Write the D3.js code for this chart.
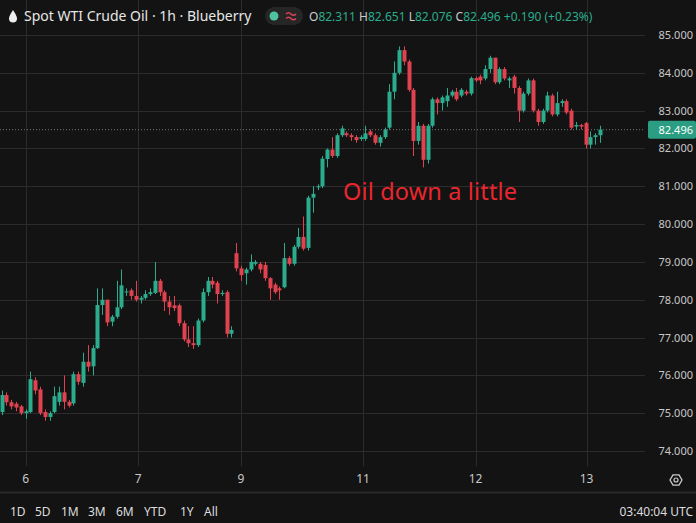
<!DOCTYPE html>
<html><head><meta charset="utf-8">
<script src="https://cdn.jsdelivr.net/npm/d3@7"></script>
<style>body{margin:0;background:#131313;}svg{display:block;font-family:"Noto Sans",sans-serif;}</style>
</head><body><svg id="c" width="696" height="523"></svg>
<script>
const opens=[75.03,75.48,75.29,75.25,75.18,75.0,75.03,75.87,75.63,75.03,74.9,75.03,75.3,75.55,75.3,75.26,76.03,75.8,76.36,76.24,76.72,77.86,78.0,77.42,77.55,77.8,78.2,78.25,78.1,78.0,78.05,78.15,78.18,78.5,78.2,77.95,77.85,77.85,77.38,76.95,76.85,76.8,77.45,78.2,78.5,78.45,78.15,78.2,77.1,
79.23,78.83,78.7,78.8,78.95,78.95,78.92,78.57,78.4,78.3,78.33,79.1,78.95,79.4,79.66,79.37,80.7,80.97,81.0,81.72,81.97,81.8,82.35,82.4,82.35,82.3,82.25,82.25,82.45,82.35,82.15,82.3,82.55,83.5,84.0,84.6,84.3,83.55,82.2,82.6,81.7,82.6,83.3,83.2,83.25,83.4,83.5,83.4,83.5,83.45,83.86,83.9,83.85,84.1,84.4,83.75,84.1,83.8,83.9,83.6,83.0,83.45,83.8,83.0,82.7,83.0,83.4,82.9,83.2,83.25,83.0,82.58,82.62,82.67,82.1,82.3,82.35];
const closes=[75.48,75.29,75.18,75.15,75.0,75.05,75.9,75.6,75.0,74.9,75.0,75.45,75.55,75.3,75.2,76.03,75.83,76.36,76.23,76.72,77.86,78.0,77.4,77.55,77.8,78.38,78.22,78.1,78.0,78.05,78.15,78.2,78.5,78.2,77.95,77.8,77.78,77.38,76.95,76.85,76.8,77.45,78.2,78.5,78.4,78.15,78.18,77.1,77.2,
78.83,78.65,78.8,79.0,79.0,78.8,78.57,78.3,78.2,78.25,79.1,78.95,79.4,79.66,79.35,80.7,80.8,81.0,81.73,81.97,81.8,82.35,82.53,82.35,82.3,82.22,82.3,82.4,82.35,82.15,82.3,82.5,83.5,84.0,84.6,84.3,83.55,82.2,82.6,81.7,82.6,83.3,83.2,83.35,83.4,83.5,83.3,83.55,83.45,83.86,83.8,83.8,84.1,84.4,83.75,84.1,83.85,83.85,83.6,83.0,83.45,83.8,83.0,82.7,83.0,83.4,82.9,83.2,83.25,82.95,82.55,82.62,82.58,82.1,82.3,82.35,82.5];
const highs=[75.6,75.55,75.35,75.3,75.22,75.1,76.1,75.95,75.7,75.1,75.05,75.7,75.7,76.0,75.35,76.1,76.1,76.6,76.8,76.8,78.3,78.3,78.0,77.6,78.5,78.8,78.3,78.3,78.5,78.1,78.25,78.3,79.0,78.55,78.25,78.1,78.1,77.9,77.45,77.3,77.3,77.5,78.3,78.6,78.6,78.5,78.25,78.25,77.3,
79.5,78.9,78.85,79.2,79.05,79.0,79.0,78.6,78.45,78.35,79.5,79.15,79.45,79.9,80.2,80.75,81.0,81.05,81.8,82.0,82.3,82.4,82.6,82.45,82.4,82.35,82.35,82.6,82.5,82.4,82.35,82.55,83.7,84.3,84.7,84.7,84.35,83.6,82.7,82.65,82.65,83.35,83.35,83.4,83.6,83.55,83.6,83.6,83.55,83.9,83.9,83.95,84.2,84.45,84.4,84.15,84.15,83.9,83.95,83.65,83.5,83.85,83.85,83.05,83.05,83.5,83.45,83.5,83.3,83.3,83.05,82.7,82.65,82.7,82.45,82.4,82.6];
const lows=[74.95,75.2,75.1,75.05,74.95,74.85,75.0,75.5,74.95,74.8,74.8,75.0,75.2,75.1,75.15,75.2,75.75,75.7,76.1,76.0,76.7,77.6,77.3,77.3,77.5,77.75,78.1,78.0,77.95,77.9,78.0,78.1,78.15,78.1,77.7,77.6,77.7,77.3,76.9,76.75,76.7,76.75,77.4,78.1,78.3,77.9,78.1,77.0,77.0,
78.75,78.5,78.4,78.75,78.9,78.7,78.5,78.0,78.15,78.0,78.3,78.9,78.9,79.35,79.3,79.3,80.3,80.9,80.95,81.5,81.75,81.75,82.3,82.3,82.2,82.15,82.2,82.2,82.3,82.1,82.05,82.25,82.5,83.3,83.95,84.2,83.5,81.8,82.1,81.5,81.6,82.55,82.9,83.0,83.1,83.35,83.25,83.35,83.4,83.4,83.75,83.7,83.8,84.0,83.7,83.7,83.8,83.6,83.45,82.7,82.95,83.4,82.95,82.6,82.65,82.95,82.85,82.85,83.1,82.9,82.5,82.5,82.5,82.0,82.0,82.1,82.15];
const dayLabels=["6","7","9","11","12","13"];
const dayIndex=[5,28.5,50,75.5,99,122.2];
const priceTicks=[74,75,76,77,78,79,80,81,82,83,84,85];
const lastPrice=82.496;
const ranges=["1D","5D","1M","3M","6M","YTD","1Y","All"];

const svg=d3.select("#c");
const G="#2bac8c",R="#e0434f";
const x=d3.scaleLinear().domain([0,125]).range([1.7,600]);
const y=d3.scaleLinear().domain([74,85]).range([451,35]);
const grid="#2c2c2c";
svg.selectAll(".hg").data(priceTicks).join("line").attr("x1",0).attr("x2",645)
 .attr("y1",d=>Math.round(y(d))+.5).attr("y2",d=>Math.round(y(d))+.5).attr("stroke",grid);
svg.selectAll(".vg").data(dayIndex).join("line").attr("x1",d=>Math.round(x(d))+.5).attr("x2",d=>Math.round(x(d))+.5)
 .attr("y1",0).attr("y2",466).attr("stroke",grid);
svg.selectAll(".pl").data(priceTicks).join("text").attr("x",693).attr("y",d=>y(d)+4).attr("text-anchor","end")
 .attr("fill","#c8c8c8").attr("font-size",11).text(d=>d.toFixed(3));
svg.selectAll(".dl").data(dayLabels).join("text").attr("x",(d,i)=>x(dayIndex[i])).attr("y",483).attr("text-anchor","middle")
 .attr("fill","#c8c8c8").attr("font-size",12).text(d=>d);
svg.append("line").attr("x1",0).attr("x2",645).attr("y1",y(lastPrice)).attr("y2",y(lastPrice)).attr("stroke","#777").attr("stroke-dasharray","1,2");
svg.append("rect").attr("x",648).attr("y",y(lastPrice)-9).attr("width",48).attr("height",18).attr("rx",2).attr("fill","#2a9d82");
svg.append("text").attr("x",693).attr("y",y(lastPrice)+4).attr("text-anchor","end").attr("fill","#fff").attr("font-size",11).text(lastPrice.toFixed(3));
const idx=d3.range(opens.length);
svg.selectAll(".wk").data(idx).join("line").attr("x1",i=>Math.round(x(i))+.5).attr("x2",i=>Math.round(x(i))+.5)
 .attr("y1",i=>y(highs[i])).attr("y2",i=>y(lows[i])).attr("stroke",i=>closes[i]>=opens[i]?G:R);
svg.selectAll(".bd").data(idx).join("rect").attr("x",i=>Math.round(x(i))-1.5).attr("width",4)
 .attr("y",i=>y(Math.max(opens[i],closes[i])))
 .attr("height",i=>Math.max(1,Math.abs(y(opens[i])-y(closes[i]))))
 .attr("fill",i=>closes[i]>=opens[i]?G:R);
svg.append("text").attr("x",343).attr("y",200).attr("fill","#e8262d").attr("font-size",23.5).attr("textLength",174).text("Oil down a little");
svg.append("path").attr("d","M13 10 Q9 16 9 18.5 A4 4 0 0 0 17 18.5 Q17 16 13 10Z").attr("fill","#eee");
svg.append("text").attr("x",24).attr("y",21).attr("fill","#e6e6e6").attr("font-size",14).text("Spot WTI Crude Oil · 1h · Blueberry");
svg.append("rect").attr("x",265).attr("y",7).attr("width",38).attr("height",18).attr("rx",9).attr("fill","#262626");
svg.append("circle").attr("cx",274).attr("cy",16).attr("r",4.5).attr("fill","#4fc3a1");
svg.append("path").attr("d","M286 14 q2.5 -2.5 5 0 t5 0 M286 18.5 q2.5 -2.5 5 0 t5 0").attr("fill","none").attr("stroke","#e0435a").attr("stroke-width",1.4);
const hdr=[["O","82.311"],["H","82.651"],["L","82.076"],["C","82.496"]];
const t=svg.append("text").attr("x",309).attr("y",21).attr("font-size",12);
hdr.forEach(h=>{t.append("tspan").attr("fill","#ccc").text(h[0]);t.append("tspan").attr("fill",G).text(h[1]+" ");});
t.append("tspan").attr("fill",G).text("+0.190 (+0.23%)");
svg.append("line").attr("x1",0).attr("x2",696).attr("y1",492.5).attr("y2",492.5).attr("stroke","#2a2a2a").attr("stroke-width",2);
svg.selectAll(".rg").data(ranges).join("text").attr("x",(d,i)=>[10,35,61,88,116,144,180,204][i]).attr("y",516)
 .attr("fill","#ddd").attr("font-size",12).text(d=>d);
svg.append("text").attr("x",693).attr("y",516).attr("text-anchor","end").attr("fill","#ddd").attr("font-size",12).text("03:40:04 UTC");
svg.append("path").attr("d",d3.range(6).map(k=>{const a=Math.PI/3*k;return (k?"L":"M")+(676+6*Math.cos(a))+" "+(480+6*Math.sin(a));}).join("")+"Z")
 .attr("fill","none").attr("stroke","#ccc").attr("stroke-width",1.3);
svg.append("circle").attr("cx",676).attr("cy",480).attr("r",2).attr("fill","none").attr("stroke","#ccc").attr("stroke-width",1.2);
</script></body></html>
